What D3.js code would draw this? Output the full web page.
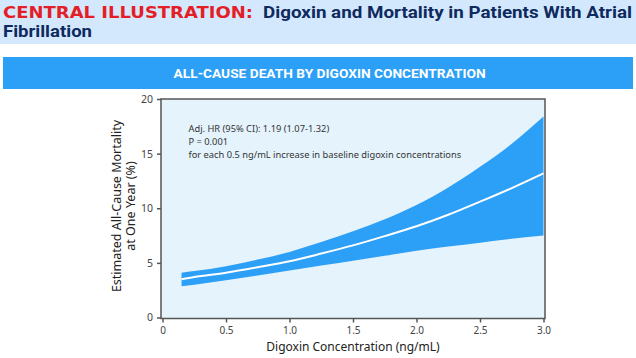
<!DOCTYPE html>
<html><head><meta charset="utf-8">
<script src="https://cdn.jsdelivr.net/npm/d3@7"></script>
<style>body{margin:0;background:#fff}svg{display:block}</style>
</head><body>
<svg id="c" width="636" height="358"></svg>
<script>
const conc =   [0.15, 0.25, 0.5, 0.75, 1.0, 1.25, 1.5, 1.75, 2.0, 2.25, 2.5, 2.75, 3.0];
const est =    [3.5, 3.7, 4.1, 4.6, 5.15, 5.85, 6.6, 7.45, 8.35, 9.4, 10.6, 11.85, 13.2];
const upper =  [4.1, 4.25, 4.7, 5.3, 6.0, 6.9, 7.9, 9.0, 10.3, 11.9, 13.8, 15.9, 18.4];
const lower =  [2.85, 3.0, 3.4, 3.85, 4.3, 4.75, 5.2, 5.65, 6.1, 6.5, 6.85, 7.2, 7.5];
const xTicks = [0, 0.5, 1.0, 1.5, 2.0, 2.5, 3.0];
const xTickLabels = ["0", "0.5", "1.0", "1.5", "2.0", "2.5", "3.0"];
const yTicks = [0, 5, 10, 15, 20];
const annotation = ["Adj. HR (95% CI): 1.19 (1.07-1.32)", "P = 0.001", "for each 0.5 ng/mL increase in baseline digoxin concentrations"];

const svg = d3.select("#c");
const font = "'Noto Sans', 'Open Sans', sans-serif";

// header
svg.append("rect").attr("x",0).attr("y",0).attr("width",636).attr("height",44).attr("fill","#d3e8fc");
svg.append("text").attr("x",3).attr("y",18).attr("font-family","'DejaVu Sans', sans-serif").attr("font-weight","bold")
  .attr("font-size",15.5).attr("fill","#e41e26").attr("textLength",250).attr("lengthAdjust","spacingAndGlyphs")
  .text("CENTRAL ILLUSTRATION:");
svg.append("text").attr("x",263).attr("y",18).attr("font-family","Roboto, sans-serif").attr("font-weight","bold")
  .attr("font-size",16.5).attr("fill","#0e2a5e").attr("textLength",369).attr("lengthAdjust","spacingAndGlyphs")
  .text("Digoxin and Mortality in Patients With Atrial");
svg.append("text").attr("x",3).attr("y",37).attr("font-family","Roboto, sans-serif").attr("font-weight","bold")
  .attr("font-size",16.5).attr("fill","#0e2a5e").attr("textLength",89).attr("lengthAdjust","spacingAndGlyphs")
  .text("Fibrillation");

// blue bar
svg.append("rect").attr("x",3).attr("y",57).attr("width",630).attr("height",32).attr("fill","#2c9ff7");
svg.append("text").attr("x",329.6).attr("y",78.3).attr("text-anchor","middle").attr("font-family","Roboto, sans-serif")
  .attr("font-weight","bold").attr("font-size",13).attr("fill","#fff").attr("textLength",312).attr("lengthAdjust","spacingAndGlyphs")
  .text("ALL-CAUSE DEATH BY DIGOXIN CONCENTRATION");

// plot
const x = d3.scaleLinear().domain([0,3]).range([162.5,543.5]);
const y = d3.scaleLinear().domain([0,20]).range([317.5,99]);
const L=161, R=545, T=99, B=318.5;
svg.append("rect").attr("x",L).attr("y",T).attr("width",R-L).attr("height",B-T).attr("fill","#e5f3fd");

const pts = conc.map((c,i)=>({c, e:est[i], u:upper[i], l:lower[i]}));
const area = d3.area().x(d=>x(d.c)).y0(d=>y(d.l)).y1(d=>y(d.u)).curve(d3.curveMonotoneX);
svg.append("path").datum(pts).attr("d",area).attr("fill","#2c9ff7");
const line = d3.line().x(d=>x(d.c)).y(d=>y(d.e)).curve(d3.curveMonotoneX);
svg.append("path").datum(pts).attr("d",line).attr("fill","none").attr("stroke","#fff").attr("stroke-width",2);

svg.append("rect").attr("x",L).attr("y",T).attr("width",R-L).attr("height",B-T).attr("fill","none")
  .attr("stroke","#555").attr("stroke-width",1.5);

// axes
const xAxis = d3.axisBottom(x).tickValues(xTicks).tickFormat((d,i)=>xTickLabels[i]).tickSize(4).tickPadding(4);
const gx = svg.append("g").attr("transform",`translate(0,${B})`).call(xAxis);
gx.select(".domain").remove();
gx.selectAll("line").attr("stroke","#555").attr("stroke-width",1.5);
gx.selectAll("text").attr("font-family",font).attr("font-size",10).attr("fill","#444");

const yAxis = d3.axisLeft(y).tickValues(yTicks).tickSize(4).tickPadding(4);
const gy = svg.append("g").attr("transform",`translate(${L},0)`).call(yAxis);
gy.select(".domain").remove();
gy.selectAll("line").attr("stroke","#555").attr("stroke-width",1.5);
gy.selectAll("text").attr("font-family",font).attr("font-size",10.5).attr("fill","#444");

// axis titles
svg.append("text").attr("x",353).attr("y",351).attr("text-anchor","middle").attr("font-family",font)
  .attr("font-size",12).attr("fill","#222").text("Digoxin Concentration (ng/mL)");
svg.append("text").attr("transform","translate(121,206) rotate(-90)").attr("text-anchor","middle").attr("font-family",font)
  .attr("font-size",12.5).attr("fill","#222").text("Estimated All-Cause Mortality");
svg.append("text").attr("transform","translate(135,206) rotate(-90)").attr("text-anchor","middle").attr("font-family",font)
  .attr("font-size",12.5).attr("fill","#222").text("at One Year (%)");

// annotation
const ann = svg.append("text").attr("font-family",font).attr("font-size",9.3).attr("fill","#333");
annotation.forEach((t,i)=>{
  ann.append("tspan").attr("x",188.5).attr("y",131.5+i*13).text(t);
});
</script>
</body></html>
